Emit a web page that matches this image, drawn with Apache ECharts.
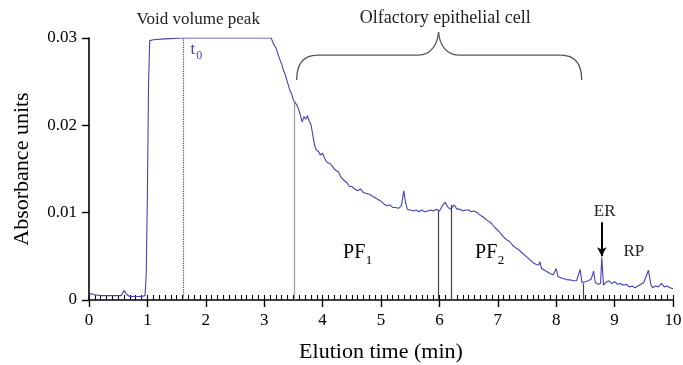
<!DOCTYPE html>
<html><head><meta charset="utf-8">
<script src="https://cdn.jsdelivr.net/npm/echarts@6/dist/echarts.min.js"></script>
<style>html,body{margin:0;padding:0;background:#fff}#c{width:683px;height:365px}</style>
</head><body><div id="c"></div>
<script>
// ---- data ----
const timeMin = [
 0.00,0.05,0.10,0.20,0.30,0.40,0.50,0.55,0.60,0.65,0.70,0.80,0.90,0.96,0.98,1.00,1.02,1.04,1.10,1.30,1.60,2.00,2.50,3.00,3.12,
 3.16,3.20,3.24,3.27,3.30,3.33,3.36,3.40,3.44,3.47,3.50,3.53,3.57,3.60,3.63,3.65,3.68,3.71,3.74,3.77,3.80,3.83,3.86,3.89,3.93,3.96,
 4.00,4.03,4.07,4.10,4.13,4.17,4.20,4.24,4.28,4.31,4.35,4.38,4.42,4.46,4.50,4.55,4.60,4.65,4.70,4.75,4.80,4.85,4.90,4.95,
 5.00,5.05,5.10,5.15,5.20,5.25,5.30,5.35,5.39,5.42,5.45,5.50,5.55,5.60,5.65,5.70,5.75,5.80,5.85,5.90,5.95,
 6.00,6.05,6.10,6.15,6.20,6.25,6.30,6.35,6.40,6.45,6.50,6.55,6.60,6.65,6.70,6.75,6.80,6.85,6.90,6.95,
 7.00,7.05,7.10,7.15,7.20,7.25,7.30,7.35,7.40,7.45,7.50,7.55,7.60,7.65,7.70,7.72,7.75,7.80,7.85,7.90,7.95,
 8.00,8.03,8.10,8.15,8.20,8.25,8.30,8.35,8.38,8.41,8.44,8.50,8.55,8.60,8.64,8.67,8.72,8.76,8.78,8.81,8.85,8.90,8.95,
 9.00,9.05,9.10,9.15,9.20,9.25,9.30,9.35,9.40,9.45,9.50,9.58,9.62,9.65,9.70,9.75,9.80,9.85,9.90,9.95,10.00
];
const absorbance = [
 0.0007,0.0007,0.0006,0.0005,0.0005,0.0005,0.0005,0.0005,0.0011,0.0006,0.0004,0.0004,0.0004,0.0005,0.0030,0.0120,0.0250,0.0297,0.0298,0.0299,0.0300,0.0300,0.0300,0.0300,0.0300,
 0.0293,0.0289,0.0281,0.0275,0.0270,0.0263,0.0258,0.0249,0.0240,0.0236,0.0229,0.0226,0.0222,0.0216,0.0209,0.0204,0.0210,0.0207,0.0211,0.0205,0.0201,0.0190,0.0178,0.0172,0.0170,0.0166,
 0.0168,0.0163,0.0158,0.0159,0.0156,0.0153,0.0150,0.0148,0.0146,0.0141,0.0138,0.0136,0.0134,0.0130,0.0130,0.0127,0.0125,0.0127,0.0123,0.0122,0.0121,0.0119,0.0117,0.0115,
 0.0113,0.0110,0.0108,0.0109,0.0106,0.0106,0.0105,0.0108,0.0125,0.0112,0.0104,0.0103,0.0102,0.0103,0.0101,0.0103,0.0101,0.0102,0.0103,0.0102,0.0104,
 0.0102,0.0108,0.0112,0.0106,0.0104,0.0109,0.0104,0.0104,0.0102,0.0103,0.0103,0.0101,0.0102,0.0100,0.0097,0.0095,0.0092,0.0090,0.0087,0.0083,
 0.0080,0.0076,0.0072,0.0069,0.0067,0.0063,0.0060,0.0058,0.0055,0.0052,0.0049,0.0046,0.0043,0.0041,0.0040,0.0044,0.0036,0.0034,0.0032,0.0030,0.0029,
 0.0036,0.0027,0.0025,0.0024,0.0023,0.0023,0.0022,0.0022,0.0024,0.0035,0.0020,0.0021,0.0022,0.0024,0.0033,0.0020,0.0018,0.0019,0.0049,0.0017,0.0020,0.0022,0.0019,
 0.0021,0.0018,0.0019,0.0017,0.0018,0.0015,0.0016,0.0014,0.0016,0.0018,0.0020,0.0034,0.0018,0.0014,0.0016,0.0015,0.0019,0.0015,0.0016,0.0014,0.0013
];
const xTickValues = [0,1,2,3,4,5,6,7,8,9,10];
const yTickValues = [0,0.01,0.02,0.03];
const t0Time = 1.61;
const cutTimes = [3.51, 5.98, 6.21, 8.46];
const cutTops  = [0.0226, 0.0103, 0.0109, 0.0019];
const cutColors = ['#9a9a9a', '#444', '#444', '#444'];
const erTime = 8.78, erFrom = 0.0089, erTo = 0.0050;
const braceTimes = [3.556, 5.985, 8.437];
const braceLevels = [0.02519, 0.02805, 0.03069];
const labels = [
  {text:'Void volume peak', at:[1.87, 0.03206], size:17},
  {text:'Olfactory epithelial cell', at:[6.10, 0.03229], size:18},
  {text:'ER', at:[8.83, 0.0101], size:17},
  {text:'RP', at:[9.33, 0.0055], size:17}
];
const subLabels = [
  {main:'PF', sub:'1', at:[4.35, 0.0054], color:'#000', size:20, subSize:13, mainW:1.112},
  {main:'PF', sub:'2', at:[6.61, 0.0054], color:'#000', size:20, subSize:13, mainW:1.112},
  {main:'t', sub:'0', at:[1.74, 0.0287], color:'#4040b0', size:17, subSize:12, mainW:0.30}
];

const FONT = 'Liberation Serif';
const seriesData = timeMin.map((t,i)=>[t, absorbance[i]]);

const chart = echarts.init(document.getElementById('c'), null, {renderer:'canvas'});

const markData = [
  [{coord:[t0Time,0], lineStyle:{color:'#4040b0', type:'dotted', width:1.2}}, {coord:[t0Time,0.03]}]
];
cutTimes.forEach((t,i)=>{
  markData.push([{coord:[t,0], lineStyle:{color:cutColors[i], type:'solid', width:1.2}}, {coord:[t,cutTops[i]]}]);
});
markData.push([{coord:[erTime,erFrom], symbol:'none', lineStyle:{color:'#000', type:'solid', width:2}},
               {coord:[erTime,erTo], symbol:'arrow', symbolSize:[7,9]}]);

const option = {
  animation:false,
  backgroundColor:'#fff',
  grid:[
    {left:89, right:10, top:38, bottom:65, containLabel:false, outerBoundsMode:'none'},
    {left:89, right:10, top:38, bottom:65, containLabel:false, outerBoundsMode:'none'}
  ],
  xAxis:[
    {type:'value', gridIndex:0, min:0, max:10, interval:1,
     name:'Elution time (min)', nameLocation:'middle', nameGap:41,
     nameTextStyle:{fontFamily:FONT, fontSize:22, color:'#000'},
     axisLine:{lineStyle:{color:'#000', width:1.6}},
     axisTick:{show:true, length:7, lineStyle:{color:'#000', width:1.4}},
     axisLabel:{fontFamily:FONT, fontSize:17, color:'#000', margin:12,
       formatter:(v)=> xTickValues.includes(v) ? String(v) : ''},
     splitLine:{show:false}},
    {type:'value', gridIndex:1, min:0, max:10, interval:0.1,
     axisLine:{show:false},
     axisTick:{show:true, inside:true, length:5, lineStyle:{color:'#000', width:1.1}},
     axisLabel:{show:false}, splitLine:{show:false}}
  ],
  yAxis:[
    {type:'value', gridIndex:0, min:0, max:0.03, interval:0.01,
     name:'Absorbance units', nameLocation:'middle', nameGap:56, nameRotate:90,
     nameTextStyle:{fontFamily:FONT, fontSize:22, color:'#000'},
     axisLine:{show:true, lineStyle:{color:'#000', width:1.6}},
     axisTick:{show:true, length:7, lineStyle:{color:'#000', width:1.4}},
     axisLabel:{fontFamily:FONT, fontSize:17, color:'#000', margin:12,
       formatter:(v)=> { const m = yTickValues.find(y=>Math.abs(y-v)<1e-9); return m===undefined?'':String(m); }},
     splitLine:{show:false}},
    {type:'value', gridIndex:1, min:0, max:1, show:false}
  ],
  series:[{
    type:'line', xAxisIndex:0, yAxisIndex:0, data:seriesData,
    showSymbol:false, symbol:'none', smooth:false,
    lineStyle:{color:'#4343b5', width:1.1},
    z:3,
    markLine:{silent:true, symbol:'none', label:{show:false}, animation:false, data:markData, z:2}
  }]
};
chart.setOption(option);

function px(p){ return chart.convertToPixel({xAxisIndex:0, yAxisIndex:0}, p); }
const graphics = [];
labels.forEach(l=>{
  const p = px(l.at);
  graphics.push({type:'text', x:p[0], y:p[1], z:10,
    style:{text:l.text, fontFamily:FONT, fontSize:l.size, fill:'#222', align:'center', verticalAlign:'middle'}});
});
subLabels.forEach(l=>{
  const p = px(l.at);
  graphics.push({type:'text', x:p[0], y:p[1], z:10,
    style:{text:l.main, fontFamily:FONT, fontSize:l.size, fill:l.color, align:'left', verticalAlign:'middle'}});
  const w = l.mainW * l.size;
  graphics.push({type:'text', x:p[0]+w+0.5, y:p[1]+l.size*0.38, z:10,
    style:{text:l.sub, fontFamily:FONT, fontSize:l.subSize, fill:l.color, align:'left', verticalAlign:'middle'}});
});
// brace built from bezier curves and straight lines
const L = px([braceTimes[0], braceLevels[0]]);
const M = px([braceTimes[1], braceLevels[1]]);
const P = px([braceTimes[1], braceLevels[2]]);
const R = px([braceTimes[2], braceLevels[0]]);
const ym = M[1];
const bs = {stroke:'#555', lineWidth:1.3, fill:null};
function bez(x1,y1,c1x,c1y,c2x,c2y,x2,y2){
  graphics.push({type:'bezierCurve', z:10, shape:{x1:x1,y1:y1,cpx1:c1x,cpy1:c1y,cpx2:c2x,cpy2:c2y,x2:x2,y2:y2}, style:bs});
}
function ln(x1,y1,x2,y2){
  graphics.push({type:'line', z:10, shape:{x1:x1,y1:y1,x2:x2,y2:y2}, style:bs});
}
bez(L[0],L[1], L[0],ym+7, L[0]+8,ym, L[0]+21,ym);
ln(L[0]+21,ym, P[0]-20,ym);
bez(P[0]-20,ym, P[0]-8,ym, P[0]-1,ym-10, P[0],P[1]);
bez(P[0],P[1], P[0]+1,ym-10, P[0]+8,ym, P[0]+20,ym);
ln(P[0]+20,ym, R[0]-21,ym);
bez(R[0]-21,ym, R[0]-8,ym, R[0],ym+7, R[0],R[1]);
chart.setOption({graphic:graphics});
</script>
</body></html>
